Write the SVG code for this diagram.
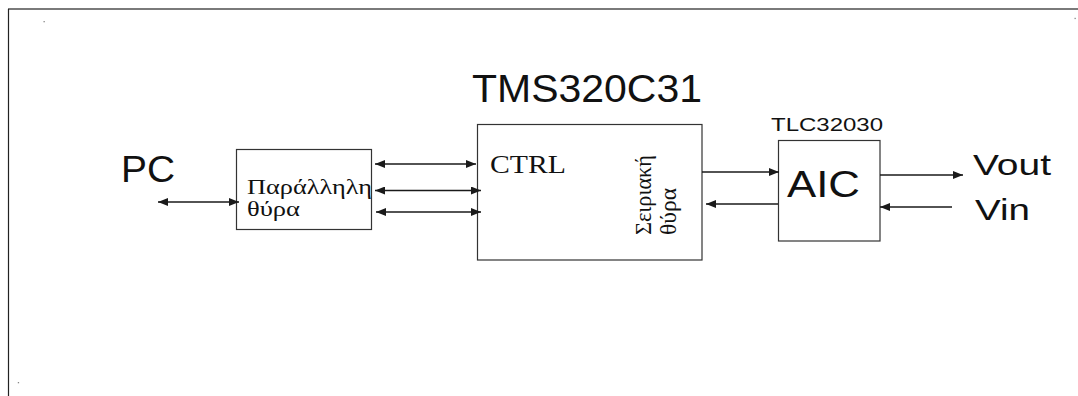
<svg xmlns="http://www.w3.org/2000/svg" width="1078" height="396" viewBox="0 0 1078 396">
<style>
.box{fill:#fff;stroke:#333;stroke-width:1.2}
.sans{font-family:"Liberation Sans",Arial,sans-serif;fill:#111}
.serif{font-family:"Liberation Serif","Times New Roman",serif;fill:#111}
.con{stroke:#1a1a1a;stroke-width:1.6;fill:none}
</style>
<defs>
<marker id="ah" viewBox="0 0 10 8" refX="10" refY="4" markerWidth="10" markerHeight="8" orient="auto-start-reverse" markerUnits="userSpaceOnUse"><path d="M0,0 L10,4 L0,8 Z" fill="#1a1a1a"/></marker>
</defs>
<rect width="1078" height="396" fill="#fff"/>
<g id="frame">
<line x1="8" y1="9" x2="1078" y2="9" stroke="#7a7a7a" stroke-width="2"/>
<line x1="8.5" y1="9" x2="8.5" y2="396" stroke="#222" stroke-width="1.2"/>
<rect x="43.5" y="21" width="1.3" height="1.3" fill="#888"/>
<rect x="1074.5" y="17.8" width="1.3" height="1.3" fill="#888"/>
<rect x="17.8" y="382" width="1.3" height="1.3" fill="#888"/>
</g>
<g id="pc">
<text class="sans" x="121" y="182" font-size="36" textLength="54" lengthAdjust="spacingAndGlyphs">PC</text>
</g>
<g id="parallel">
<rect class="box" x="236.5" y="149.5" width="135" height="80"/>
<text class="serif" x="247" y="193.5" font-size="20" textLength="125" lengthAdjust="spacingAndGlyphs">Παράλληλη</text>
<text class="serif" x="247" y="216" font-size="20" textLength="53" lengthAdjust="spacingAndGlyphs">θύρα</text>
</g>
<g id="cpu">
<text class="sans" x="472" y="101.7" font-size="39" textLength="230" lengthAdjust="spacingAndGlyphs">TMS320C31</text>
<rect class="box" x="477.5" y="124.5" width="224.5" height="135.5"/>
<text class="serif" x="490" y="173" font-size="25" textLength="76" lengthAdjust="spacingAndGlyphs">CTRL</text>
<text class="serif" transform="translate(651,235) rotate(-90)" font-size="23" textLength="80" lengthAdjust="spacingAndGlyphs">Σειριακή</text>
<text class="serif" transform="translate(676,235) rotate(-90)" font-size="23" textLength="47" lengthAdjust="spacingAndGlyphs">θύρα</text>
</g>
<g id="aic">
<text class="sans" x="771" y="131" font-size="19" textLength="112" lengthAdjust="spacingAndGlyphs">TLC32030</text>
<rect class="box" x="778.5" y="140.5" width="101.5" height="100.5"/>
<text class="sans" x="787" y="197" font-size="37" textLength="73" lengthAdjust="spacingAndGlyphs">AIC</text>
</g>
<g id="vout">
<text class="sans" x="973" y="175" font-size="30" textLength="78" lengthAdjust="spacingAndGlyphs">Vout</text>
</g>
<g id="vin">
<text class="sans" x="975" y="220" font-size="30" textLength="55" lengthAdjust="spacingAndGlyphs">Vin</text>
</g>
<g id="connectors">
<path class="con" d="M158,202 L239,202" marker-start="url(#ah)" marker-end="url(#ah)"/>
<path class="con" d="M375,164 L476,164" marker-start="url(#ah)" marker-end="url(#ah)"/>
<path class="con" d="M375,190.5 L481,190.5" marker-start="url(#ah)" marker-end="url(#ah)"/>
<path class="con" d="M376,212 L481,212" marker-start="url(#ah)" marker-end="url(#ah)"/>
<path class="con" d="M702,172 L779,172" marker-end="url(#ah)"/>
<path class="con" d="M778,204 L706,204" marker-end="url(#ah)"/>
<path class="con" d="M880,175 L963,175" marker-end="url(#ah)"/>
<path class="con" d="M952,207 L880,207" marker-end="url(#ah)"/>
</g>
</svg>
